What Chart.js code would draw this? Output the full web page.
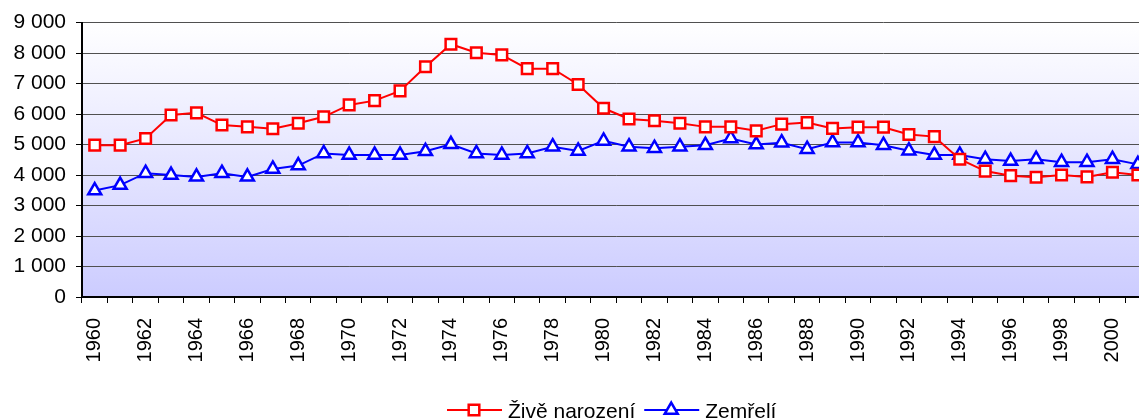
<!DOCTYPE html>
<html lang="cs">
<head>
    <meta charset="UTF-8">
    <title>Živě narození a zemřelí</title>
    <script src="https://cdn.jsdelivr.net/npm/chart.js"></script>
</head>
<body>
    <div class="wrap">
        <canvas id="chart" width="1177" height="419"></canvas>
    </div>
</body>
</html>
<style>
body {
    margin: 0;
    padding: 0;
    background: #fff;
    overflow: hidden;
}

.wrap {
    width: 1139px;
    height: 419px;
    overflow: hidden;
}

#chart {
    display: block;
}
</style>

<script>
// roky
const years = [
    "1960", "1961", "1962", "1963", "1964", "1965", "1966", "1967", "1968", "1969",
    "1970", "1971", "1972", "1973", "1974", "1975", "1976", "1977", "1978", "1979",
    "1980", "1981", "1982", "1983", "1984", "1985", "1986", "1987", "1988", "1989",
    "1990", "1991", "1992", "1993", "1994", "1995", "1996", "1997", "1998", "1999",
    "2000", "2001"
];

// Živě narození
const liveBirths = [
    4980, 4980, 5200, 5970, 6040, 5640, 5580, 5520, 5700, 5910,
    6300, 6440, 6760, 7550, 8290, 8010, 7940, 7490, 7490, 6970,
    6190, 5840, 5780, 5700, 5580, 5580, 5450, 5670, 5720, 5530,
    5570, 5570, 5330, 5260, 4520, 4130, 3980, 3930, 4000, 3940,
    4090, 4000
];

// Zemřelí
const deaths = [
    3490, 3670, 4060, 4000, 3940, 4060, 3940, 4200, 4310, 4710,
    4660, 4660, 4660, 4780, 5010, 4710, 4660, 4710, 4930, 4790,
    5120, 4930, 4880, 4930, 4980, 5200, 5000, 5060, 4850, 5070,
    5070, 4980, 4800, 4660, 4660, 4520, 4460, 4520, 4420, 4420,
    4520, 4350
];

// osa y
const yMin = 0;
const yMax = 9000;
const yStep = 1000;

const seriesNames = ["Živě narození", "Zemřelí"];
const seriesColors = ["#ff0000", "#0000ff"];
const seriesMarkers = ["rect", "triangle"];

const FONT = "'Liberation Sans', Arial, sans-serif";

// pozadí grafu - přechod z bílé do fialové
const plotBackground = {
    id: "plotBackground",
    beforeDraw(chart) {
        const { ctx, chartArea: a } = chart;
        const g = ctx.createLinearGradient(0, a.top, 0, a.bottom);
        g.addColorStop(0, "#ffffff");
        g.addColorStop(1, "#ccccff");
        ctx.save();
        ctx.fillStyle = g;
        ctx.fillRect(a.left, a.top, a.right - a.left, a.bottom - a.top);
        ctx.restore();
    }
};

// legenda dole (čára se značkou uprostřed)
const lineLegend = {
    id: "lineLegend",
    afterDraw(chart) {
        const ctx = chart.ctx;
        const y = 410;
        let x = 447;
        ctx.save();
        ctx.font = "21px " + FONT;
        ctx.textBaseline = "middle";
        seriesNames.forEach((name, i) => {
            ctx.strokeStyle = seriesColors[i];
            ctx.lineWidth = 2;
            ctx.beginPath();
            ctx.moveTo(x, y);
            ctx.lineTo(x + 55, y);
            ctx.stroke();
            ctx.fillStyle = "#fff";
            ctx.lineWidth = 2.5;
            Chart.helpers.drawPoint(ctx, {
                pointStyle: seriesMarkers[i],
                radius: 7.5,
                borderWidth: 2.5
            }, x + 27, y);
            ctx.fillStyle = "#000";
            ctx.fillText(name, x + 61, y + 2);
            x += 61 + ctx.measureText(name).width + 9;
        });
        ctx.restore();
    }
};

const ctx = document.getElementById("chart").getContext("2d");

new Chart(ctx, {
    type: "line",
    data: {
        labels: years,
        datasets: [
            {
                label: seriesNames[0],
                data: liveBirths,
                borderColor: seriesColors[0],
                backgroundColor: "#ffffff",
                borderWidth: 2,
                pointStyle: seriesMarkers[0],
                pointRadius: 7.5,
                pointBorderWidth: 2.5,
                pointBorderColor: seriesColors[0],
                pointBackgroundColor: "#ffffff",
                tension: 0,
                clip: false
            },
            {
                label: seriesNames[1],
                data: deaths,
                borderColor: seriesColors[1],
                backgroundColor: "#ffffff",
                borderWidth: 2,
                pointStyle: seriesMarkers[1],
                pointRadius: 7.5,
                pointBorderWidth: 2.5,
                pointBorderColor: seriesColors[1],
                pointBackgroundColor: "#ffffff",
                tension: 0,
                clip: false
            }
        ]
    },
    options: {
        responsive: false,
        animation: false,
        devicePixelRatio: 1,
        layout: {
            padding: { left: 0, top: 22, right: 10, bottom: 0 }
        },
        plugins: {
            legend: { display: false },
            tooltip: { enabled: false }
        },
        scales: {
            x: {
                offset: true,
                grid: {
                    offset: true,
                    drawOnChartArea: false,
                    drawTicks: true,
                    tickLength: 6,
                    tickColor: "#000"
                },
                border: { color: "#000", width: 2 },
                ticks: {
                    autoSkip: false,
                    maxRotation: 90,
                    minRotation: 90,
                    padding: 15,
                    color: "#000",
                    font: { family: FONT, size: 20 },
                    callback: function (val, i) {
                        return i % 2 === 0 ? years[i] : "";
                    }
                },
                afterFit(scale) {
                    scale.height = 122;
                }
            },
            y: {
                min: yMin,
                max: yMax,
                grid: {
                    color: "#505050",
                    lineWidth: 1,
                    tickLength: 6,
                    tickColor: "#000"
                },
                border: { color: "#000", width: 2 },
                ticks: {
                    stepSize: yStep,
                    padding: 10,
                    color: "#000",
                    font: { family: FONT, size: 21 },
                    callback: function (v) {
                        return v >= 1000 ? Math.floor(v / 1000) + " " + String(v % 1000).padStart(3, "0") : String(v);
                    }
                },
                afterFit(scale) {
                    scale.width = 82;
                }
            }
        }
    },
    plugins: [plotBackground, lineLegend]
});
</script>
